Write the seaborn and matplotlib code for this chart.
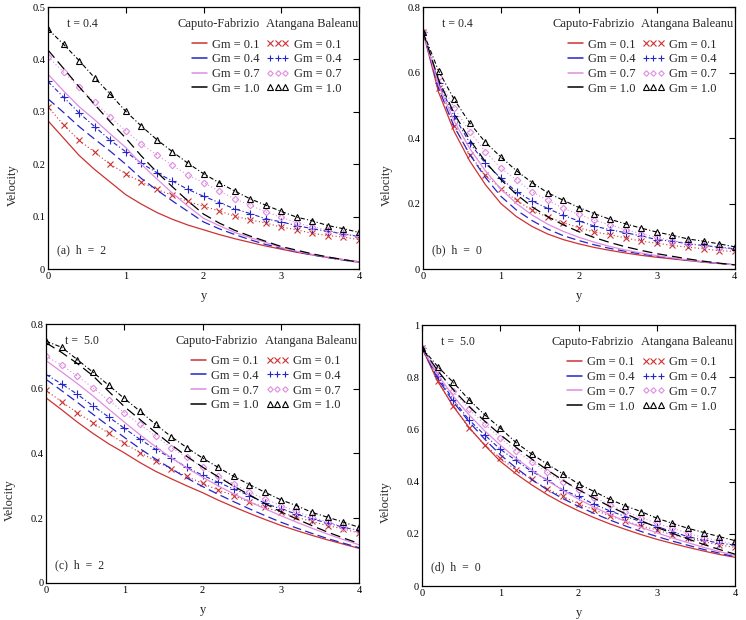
import matplotlib
matplotlib.use("Agg")
import matplotlib.pyplot as plt
from matplotlib.lines import Line2D
from matplotlib.ticker import FuncFormatter
import seaborn as sns

# grid of y values and Gm values
y_grid = [0.0, 0.2, 0.4, 0.6, 0.8, 1.0, 1.2, 1.4, 1.6, 1.8, 2.0,
          2.2, 2.4, 2.6, 2.8, 3.0, 3.2, 3.4, 3.6, 3.8, 4.0]
gm_values = [0.1, 0.4, 0.7, 1.0]

# (a) t = 0.4, h = 2
a_cf = {
    0.1: [0.283, 0.250, 0.217, 0.190, 0.166, 0.142, 0.124, 0.108, 0.095, 0.084, 0.075,
          0.066, 0.058, 0.051, 0.044, 0.038, 0.032, 0.027, 0.022, 0.018, 0.014],
    0.4: [0.325, 0.299, 0.272, 0.248, 0.225, 0.200, 0.173, 0.151, 0.130, 0.110, 0.090,
          0.077, 0.066, 0.056, 0.047, 0.040, 0.033, 0.027, 0.022, 0.017, 0.013],
    0.7: [0.372, 0.340, 0.310, 0.285, 0.258, 0.232, 0.200, 0.172, 0.145, 0.120, 0.097,
          0.083, 0.070, 0.060, 0.051, 0.041, 0.034, 0.028, 0.023, 0.018, 0.013],
    1.0: [0.418, 0.383, 0.348, 0.314, 0.281, 0.250, 0.216, 0.185, 0.157, 0.130, 0.105,
          0.088, 0.074, 0.063, 0.053, 0.043, 0.036, 0.029, 0.023, 0.018, 0.013],
}
a_ab = {
    0.1: [0.310, 0.275, 0.246, 0.223, 0.200, 0.182, 0.166, 0.152, 0.141, 0.129, 0.120,
          0.111, 0.101, 0.094, 0.088, 0.080, 0.075, 0.068, 0.064, 0.061, 0.056],
    0.4: [0.358, 0.328, 0.298, 0.272, 0.246, 0.224, 0.202, 0.184, 0.168, 0.152, 0.139,
          0.127, 0.115, 0.106, 0.096, 0.090, 0.083, 0.077, 0.072, 0.067, 0.062],
    0.7: [0.405, 0.376, 0.347, 0.318, 0.290, 0.264, 0.239, 0.218, 0.198, 0.179, 0.165,
          0.149, 0.134, 0.122, 0.109, 0.099, 0.088, 0.081, 0.074, 0.067, 0.063],
    1.0: [0.458, 0.429, 0.398, 0.365, 0.334, 0.301, 0.273, 0.247, 0.224, 0.202, 0.182,
          0.165, 0.149, 0.134, 0.122, 0.110, 0.099, 0.092, 0.083, 0.077, 0.070],
}

# (b) t = 0.4, h = 0
b_cf = {
    0.1: [0.725, 0.540, 0.420, 0.330, 0.258, 0.200, 0.160, 0.130, 0.107, 0.090, 0.077,
          0.066, 0.057, 0.049, 0.042, 0.036, 0.031, 0.026, 0.021, 0.017, 0.013],
    0.4: [0.725, 0.552, 0.435, 0.350, 0.280, 0.222, 0.180, 0.148, 0.122, 0.102, 0.087,
          0.074, 0.063, 0.054, 0.046, 0.039, 0.033, 0.027, 0.022, 0.017, 0.013],
    0.7: [0.725, 0.562, 0.452, 0.368, 0.300, 0.244, 0.200, 0.165, 0.137, 0.115, 0.097,
          0.082, 0.069, 0.058, 0.049, 0.041, 0.034, 0.028, 0.022, 0.017, 0.013],
    1.0: [0.725, 0.578, 0.475, 0.395, 0.328, 0.273, 0.228, 0.190, 0.160, 0.135, 0.114,
          0.096, 0.081, 0.068, 0.057, 0.047, 0.039, 0.031, 0.024, 0.018, 0.013],
}
b_ab = {
    0.1: [0.725, 0.554, 0.436, 0.349, 0.287, 0.246, 0.210, 0.179, 0.159, 0.142, 0.126,
          0.113, 0.105, 0.095, 0.085, 0.079, 0.072, 0.067, 0.062, 0.056, 0.054],
    0.4: [0.725, 0.569, 0.467, 0.385, 0.323, 0.277, 0.236, 0.208, 0.185, 0.164, 0.147,
          0.131, 0.120, 0.111, 0.101, 0.090, 0.085, 0.077, 0.072, 0.067, 0.062],
    0.7: [0.725, 0.585, 0.492, 0.420, 0.359, 0.308, 0.272, 0.236, 0.210, 0.185, 0.167,
          0.149, 0.135, 0.120, 0.108, 0.097, 0.087, 0.079, 0.072, 0.065, 0.060],
    1.0: [0.725, 0.605, 0.518, 0.446, 0.387, 0.342, 0.300, 0.264, 0.233, 0.210, 0.188,
          0.169, 0.152, 0.138, 0.125, 0.113, 0.103, 0.092, 0.085, 0.077, 0.068],
}

# (c) t = 5.0, h = 2
c_cf = {
    0.1: [0.572, 0.535, 0.497, 0.462, 0.430, 0.402, 0.372, 0.345, 0.322, 0.300, 0.279,
          0.256, 0.235, 0.215, 0.196, 0.178, 0.162, 0.147, 0.133, 0.120, 0.107],
    0.4: [0.629, 0.594, 0.558, 0.521, 0.485, 0.450, 0.415, 0.383, 0.353, 0.324, 0.298,
          0.274, 0.251, 0.229, 0.208, 0.188, 0.170, 0.153, 0.137, 0.123, 0.109],
    0.7: [0.687, 0.652, 0.616, 0.578, 0.537, 0.497, 0.458, 0.421, 0.387, 0.355, 0.327,
          0.300, 0.275, 0.251, 0.229, 0.208, 0.188, 0.169, 0.151, 0.134, 0.118],
    1.0: [0.742, 0.712, 0.678, 0.640, 0.592, 0.545, 0.505, 0.465, 0.427, 0.391, 0.358,
          0.328, 0.299, 0.272, 0.245, 0.220, 0.198, 0.177, 0.157, 0.139, 0.122],
}
c_ab = {
    0.1: [0.595, 0.560, 0.526, 0.495, 0.462, 0.431, 0.403, 0.377, 0.352, 0.329, 0.308,
          0.287, 0.270, 0.249, 0.234, 0.218, 0.203, 0.190, 0.177, 0.167, 0.154],
    0.4: [0.644, 0.615, 0.583, 0.547, 0.513, 0.478, 0.444, 0.413, 0.386, 0.357, 0.333,
          0.311, 0.290, 0.270, 0.246, 0.229, 0.213, 0.198, 0.185, 0.172, 0.162],
    0.7: [0.700, 0.673, 0.639, 0.603, 0.564, 0.526, 0.490, 0.454, 0.418, 0.388, 0.357,
          0.329, 0.306, 0.280, 0.259, 0.239, 0.221, 0.203, 0.188, 0.174, 0.162],
    1.0: [0.747, 0.728, 0.690, 0.651, 0.611, 0.570, 0.531, 0.490, 0.452, 0.418, 0.386,
          0.357, 0.329, 0.304, 0.280, 0.257, 0.239, 0.218, 0.203, 0.188, 0.172],
}

# (d) t = 5.0, h = 0
d_cf = {
    0.1: [0.912, 0.785, 0.688, 0.608, 0.540, 0.478, 0.430, 0.388, 0.350, 0.317, 0.288,
          0.262, 0.238, 0.217, 0.197, 0.179, 0.163, 0.148, 0.134, 0.121, 0.110],
    0.4: [0.912, 0.795, 0.705, 0.630, 0.563, 0.503, 0.453, 0.408, 0.369, 0.335, 0.305,
          0.278, 0.253, 0.230, 0.209, 0.190, 0.172, 0.156, 0.140, 0.126, 0.112],
    0.7: [0.912, 0.810, 0.727, 0.656, 0.595, 0.540, 0.490, 0.445, 0.404, 0.367, 0.333,
          0.302, 0.274, 0.248, 0.225, 0.204, 0.184, 0.166, 0.148, 0.132, 0.117],
    1.0: [0.912, 0.825, 0.752, 0.688, 0.632, 0.580, 0.532, 0.487, 0.445, 0.405, 0.369,
          0.336, 0.305, 0.277, 0.250, 0.225, 0.202, 0.180, 0.159, 0.140, 0.122],
}
d_ab = {
    0.1: [0.912, 0.784, 0.688, 0.605, 0.541, 0.490, 0.445, 0.409, 0.372, 0.343, 0.315,
          0.292, 0.269, 0.249, 0.230, 0.215, 0.196, 0.183, 0.170, 0.157, 0.148],
    0.4: [0.912, 0.803, 0.714, 0.637, 0.579, 0.524, 0.481, 0.439, 0.407, 0.368, 0.343,
          0.313, 0.288, 0.266, 0.247, 0.228, 0.208, 0.189, 0.176, 0.164, 0.157],
    0.7: [0.912, 0.829, 0.746, 0.678, 0.620, 0.567, 0.518, 0.477, 0.435, 0.400, 0.368,
          0.339, 0.311, 0.285, 0.262, 0.240, 0.221, 0.202, 0.185, 0.173, 0.160],
    1.0: [0.912, 0.841, 0.780, 0.714, 0.656, 0.605, 0.550, 0.506, 0.467, 0.430, 0.391,
          0.362, 0.332, 0.307, 0.285, 0.260, 0.240, 0.221, 0.205, 0.189, 0.174],
}

sns.set_theme(style="white")
plt.rcParams["font.family"] = ["Liberation Serif", "DejaVu Serif"]

colors = {0.1: "#cc3333", 0.4: "#2525c8", 0.7: "#e08ce0", 1.0: "#000000"}
cf_styles = {0.1: "-", 0.4: (0, (7, 3.5)), 0.7: "-", 1.0: (0, (8, 4))}
ab_styles = {0.1: (0, (1, 2.2)), 0.4: (0, (4, 2, 1, 2)), 0.7: (0, (1, 2.2)), 1.0: (0, (4, 2, 1, 2))}
ab_markers = {0.1: "x", 0.4: "+", 0.7: "D", 1.0: "^"}
ab_msize = {0.1: 4.5, 0.4: 5.5, 0.7: 3.3, 1.0: 4.5}

panels = [
    ([0.0643, 0.566, 0.417, 0.4226], a_cf, a_ab, 0.5, [0, 0.1, 0.2, 0.3, 0.4, 0.5], "t = 0.4", "(a)  h  =  2"),
    ([0.567, 0.566, 0.418, 0.4226], b_cf, b_ab, 0.8, [0, 0.2, 0.4, 0.6, 0.8], "t = 0.4", "(b)  h  =  0"),
    ([0.0617, 0.0597, 0.4196, 0.4177], c_cf, c_ab, 0.8, [0, 0.2, 0.4, 0.6, 0.8], "t =  5.0", "(c)  h  =  2"),
    ([0.5657, 0.0548, 0.4196, 0.421], d_cf, d_ab, 1.0, [0, 0.2, 0.4, 0.6, 0.8, 1.0], "t =  5.0", "(d)  h  =  0"),
]

fig = plt.figure(figsize=(7.46, 6.20), dpi=100)

for rect, cf, ab, ymax, yticks, tlabel, plabel in panels:
    ax = fig.add_axes(rect)
    for g in gm_values:
        sns.lineplot(x=y_grid, y=cf[g], ax=ax, color=colors[g], linestyle=cf_styles[g],
                     linewidth=0.9)
        sns.lineplot(x=y_grid, y=ab[g], ax=ax, color=colors[g], linestyle=ab_styles[g],
                     linewidth=0.8, marker=ab_markers[g], markersize=ab_msize[g],
                     markerfacecolor="none", markeredgecolor=colors[g], markeredgewidth=0.8)
    ax.set_xlim(0, 4)
    ax.set_ylim(0, ymax)
    ax.set_xticks([0, 1, 2, 3, 4])
    ax.set_yticks(yticks)
    ax.xaxis.set_major_formatter(FuncFormatter(lambda v, p: "%g" % v))
    ax.yaxis.set_major_formatter(FuncFormatter(lambda v, p: "%g" % v))
    ax.tick_params(direction="in", top=True, right=True, length=4, width=0.8,
                   labelsize=7.5, pad=2, colors="black")
    for sp in ax.spines.values():
        sp.set_color("black")
        sp.set_linewidth(0.9)
    ax.set_xlabel("y", fontsize=9)
    ax.set_ylabel("Velocity", fontsize=9)
    ax.xaxis.set_label_coords(0.5, -0.08)
    ax.yaxis.set_label_coords(-0.095, 0.32)

    ax.text(0.06, 0.935, tlabel, transform=ax.transAxes, fontsize=8.5, va="center")
    ax.text(0.028, 0.07, plabel, transform=ax.transAxes, fontsize=8.5, va="center")

    # legend headers
    ax.text(0.415, 0.935, "Caputo-Fabrizio", transform=ax.transAxes, fontsize=9, va="center")
    ax.text(0.700, 0.935, "Atangana Baleanu", transform=ax.transAxes, fontsize=9, va="center")

    labels = ["Gm = %.1f" % g for g in gm_values]
    cf_handles = [Line2D([], [], color=colors[g], linewidth=1.1) for g in gm_values]
    ab_handles = [Line2D([], [], color=colors[g], linestyle="none", marker=ab_markers[g],
                         markersize=ab_msize[g] * 0.85, markerfacecolor="none",
                         markeredgecolor=colors[g], markeredgewidth=0.8) for g in gm_values]
    leg1 = ax.legend(cf_handles, labels, loc="upper left",
                     bbox_to_anchor=(0.464, 0.88), frameon=False, fontsize=9,
                     handlelength=1.2, handletextpad=0.4,
                     labelspacing=0.22, borderpad=0, borderaxespad=0)
    ax.add_artist(leg1)
    ax.legend(ab_handles, labels, loc="upper left",
              bbox_to_anchor=(0.702, 0.88), frameon=False, fontsize=9,
              handlelength=1.8, handletextpad=0.4, numpoints=3,
              labelspacing=0.22, borderpad=0, borderaxespad=0)

fig.savefig("out.png", dpi=100, facecolor="white")
